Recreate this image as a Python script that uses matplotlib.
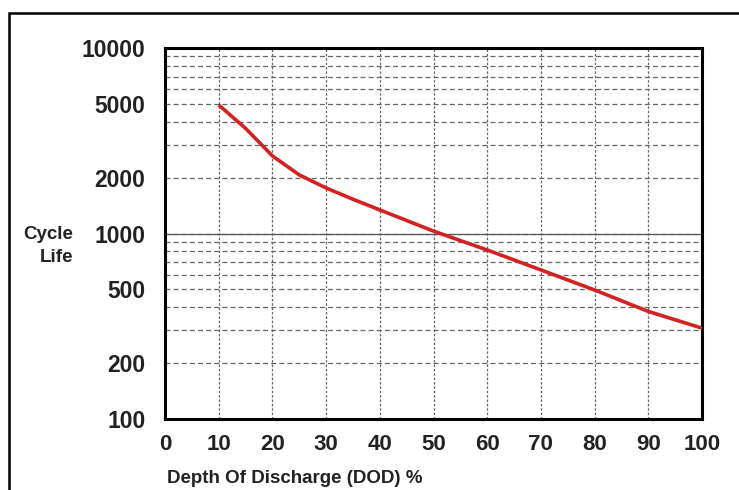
import numpy as np
import matplotlib.pyplot as plt
from matplotlib.patches import Rectangle
from matplotlib.ticker import FixedLocator, NullFormatter

# Data
dod = [10, 15, 20, 25, 30, 35, 40, 50, 60, 70, 80, 90, 100]
cycles = [4930, 3690, 2620, 2070, 1760, 1530, 1340, 1030, 815, 636, 496, 380, 309]

y_major = [100, 200, 500, 1000, 2000, 5000, 10000]
y_minor = [300, 400, 600, 700, 800, 900, 3000, 4000, 6000, 7000, 8000, 9000]
x_ticks = [0, 10, 20, 30, 40, 50, 60, 70, 80, 90, 100]

plt.rcParams['font.family'] = ['Liberation Sans', 'DejaVu Sans']

fig = plt.figure(figsize=(7.39, 4.90), dpi=100)
ax = fig.add_axes([165 / 739, 1 - 419 / 490, (702 - 165) / 739, (419 - 48) / 490])

ax.set_yscale('log')
ax.set_xlim(0, 100)
ax.set_ylim(100, 10000)

ax.yaxis.set_major_locator(FixedLocator(y_major))
ax.yaxis.set_minor_locator(FixedLocator(y_minor))
ax.yaxis.set_minor_formatter(NullFormatter())
ax.set_yticklabels([str(v) for v in y_major])
ax.set_xticks(x_ticks)
ax.set_xticklabels([str(v) for v in x_ticks])

ax.tick_params(axis='y', which='both', length=0, pad=14, labelsize=16.5)
ax.tick_params(axis='x', which='both', length=0, pad=11, labelsize=16)
for lab in ax.get_xticklabels() + ax.get_yticklabels():
    lab.set_fontweight('bold')
    lab.set_color('#222222')

# grid
ax.grid(True, axis='y', which='both', color='#666666', linestyle=(0, (4, 2.5)), linewidth=0.9)
ax.grid(True, axis='x', which='major', color='#666666', linestyle=(0, (2, 1.5)), linewidth=0.9)
ax.axhline(1000, color='#555555', linewidth=0.9, zorder=2)

for s in ax.spines.values():
    s.set_linewidth(2.2)
    s.set_color('black')

ax.plot(dod, cycles, color='#d42222', linewidth=2.6, solid_capstyle='butt',
        solid_joinstyle='round', zorder=3)

fig.text(73 / 739, 1 - 246 / 490, 'Cycle\nLife', ha='right', va='center',
         multialignment='right', fontsize=13.5, fontweight='bold', linespacing=1.45,
         color='#222222')
fig.text(167 / 739, 1 - 478 / 490, 'Depth Of Discharge (DOD) %', ha='left', va='center',
         fontsize=13.5, fontweight='bold', color='#222222')

# outer frame (runs off the right and bottom edges)
fig.patches.append(Rectangle((9 / 739, -0.2), 1.2, 0.2 + 1 - 13 / 490,
                             transform=fig.transFigure, fill=False,
                             edgecolor='black', linewidth=1.8))

fig.savefig('out.png', dpi=100)
